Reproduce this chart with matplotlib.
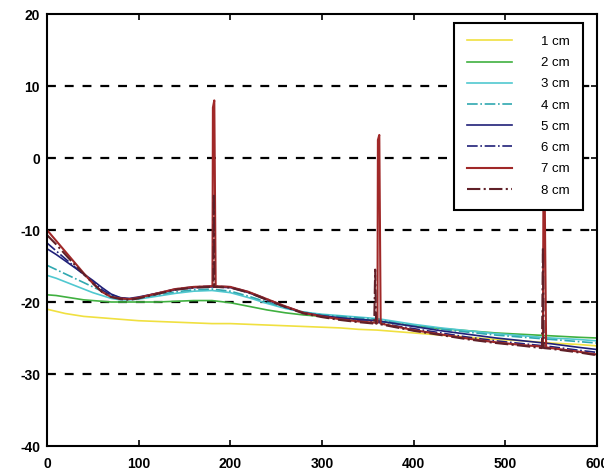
import matplotlib
matplotlib.use('Agg')
import matplotlib.pyplot as plt

# sample positions along the x axis
x = [0, 10, 20, 30, 40, 50, 60, 70, 80, 90, 100, 120, 140, 160, 180, 200,
     220, 240, 260, 280, 300, 320, 340, 360, 380, 400, 430, 460, 490, 520,
     550, 580, 600]

labels = ['1 cm', '2 cm', '3 cm', '4 cm', '5 cm', '6 cm', '7 cm', '8 cm']

y1 = [-21.0, -21.3, -21.6, -21.8, -22.0, -22.1, -22.2, -22.3, -22.4, -22.5, -22.6,
      -22.7, -22.8, -22.9, -23.0, -23.0, -23.1, -23.2, -23.3, -23.4, -23.5, -23.6,
      -23.8, -23.9, -24.1, -24.3, -24.6, -24.9, -25.2, -25.4, -25.7, -25.9, -26.1]
y2 = [-19.0, -19.1, -19.3, -19.5, -19.7, -19.8, -19.9, -20.0, -20.0, -20.0, -20.0,
      -20.0, -19.9, -19.8, -19.8, -20.1, -20.6, -21.1, -21.5, -21.8, -22.0, -22.2,
      -22.4, -22.6, -23.0, -23.3, -23.7, -24.0, -24.3, -24.5, -24.7, -24.9, -25.0]
y3 = [-16.3, -16.7, -17.2, -17.7, -18.2, -18.7, -19.1, -19.5, -19.7, -19.7, -19.6,
      -19.2, -18.8, -18.5, -18.4, -18.7, -19.4, -20.2, -20.9, -21.4, -21.7, -21.9,
      -22.1, -22.3, -22.7, -23.1, -23.6, -24.0, -24.4, -24.7, -25.0, -25.2, -25.4]
y4 = [-14.9, -15.5, -16.1, -16.7, -17.3, -17.9, -18.5, -19.0, -19.4, -19.6, -19.5,
      -19.0, -18.6, -18.3, -18.2, -18.5, -19.2, -20.0, -20.8, -21.4, -21.8, -22.0,
      -22.2, -22.4, -22.9, -23.3, -23.8, -24.2, -24.6, -24.9, -25.2, -25.5, -25.7]
y5 = [-12.6, -13.4, -14.3, -15.2, -16.1, -17.0, -18.0, -18.9, -19.4, -19.5, -19.3,
      -18.8, -18.3, -18.0, -17.9, -18.0, -18.7, -19.7, -20.7, -21.5, -21.9, -22.2,
      -22.4, -22.6, -23.0, -23.4, -24.0, -24.5, -25.0, -25.4, -25.8, -26.3, -26.6]
y6 = [-11.8, -12.9, -14.0, -15.1, -16.2, -17.2, -18.3, -19.1, -19.5, -19.6, -19.4,
      -18.8, -18.2, -17.9, -17.8, -17.9, -18.6, -19.6, -20.6, -21.5, -22.0, -22.3,
      -22.6, -22.8, -23.3, -23.7, -24.3, -24.9, -25.4, -25.8, -26.2, -26.7, -27.0]
y7 = [-10.0, -11.5, -13.0, -14.5, -16.0, -17.4, -18.6, -19.3, -19.5, -19.6, -19.4,
      -18.8, -18.2, -17.9, -17.8, -17.9, -18.6, -19.6, -20.6, -21.5, -22.0, -22.4,
      -22.7, -22.9, -23.4, -23.9, -24.5, -25.1, -25.6, -26.0, -26.4, -26.9, -27.3]
y8 = [-10.7, -12.0, -13.4, -14.8, -16.1, -17.4, -18.6, -19.3, -19.6, -19.7, -19.5,
      -18.9, -18.3, -18.0, -17.9, -18.0, -18.7, -19.7, -20.7, -21.6, -22.1, -22.5,
      -22.8, -23.0, -23.5, -24.0, -24.6, -25.2, -25.7, -26.1, -26.5, -27.0, -27.4]

# narrow pulses (base, up, peak, down)
spike7_x = [180.5, 181, 182.5, 184, 360.5, 361, 362.5, 364, 541, 541.5, 543, 544.5]
spike7_y = [-17.8, 7.0, 8.0, -17.8, -22.9, 2.5, 3.2, -23.0, -26.2, -7.0, -6.0, -26.3]
spike8_x = [181.5, 182, 182.5, 357, 358, 359, 540, 541, 542]
spike8_y = [-17.9, -5.0, -17.9, -23.0, -15.5, -23.0, -26.4, -12.4, -26.4]

colors = ['#f0e040', '#40b040', '#50c8d0', '#30a8b0', '#202078', '#202078', '#a02828', '#602028']
styles = ['-', '-', '-', '-.', '-', '-.', '-', '-.']


def with_spikes(xs, ys, sx, sy):
    pts = dict(zip(xs, ys))
    pts.update(zip(sx, sy))
    keys = sorted(pts)
    return keys, [pts[k] for k in keys]


series = [y1, y2, y3, y4, y5, y6, y7, y8]

plt.rcParams['font.family'] = ['Liberation Sans Narrow', 'Liberation Sans', 'DejaVu Sans']
plt.rcParams['axes.unicode_minus'] = False

fig = plt.figure(figsize=(6.04, 4.73), dpi=100)
ax = fig.add_axes([47 / 604, 27 / 473, 550 / 604, 432 / 473])

for i, ys in enumerate(series):
    xs = x
    if i == 6:
        xs, ys = with_spikes(x, ys, spike7_x, spike7_y)
    elif i == 7:
        xs, ys = with_spikes(x, ys, spike8_x, spike8_y)
    lw = 1.5 if i >= 6 else 1.2
    ax.plot(xs, ys, color=colors[i], linestyle=styles[i], linewidth=lw, label=labels[i])

for gy in [10, 0, -10, -20, -30]:
    ax.axhline(gy, color='black', linestyle=(0, (4, 4)), linewidth=1.6, zorder=0.5)

ax.set_xlim(0, 600)
ax.set_ylim(-40, 20)
ax.set_xticks(range(0, 601, 100))
ax.set_yticks(range(-40, 21, 10))
ax.tick_params(direction='in', length=4, width=1.2, top=True, right=True,
               labelsize=10, pad=5)
ax.tick_params(axis='x', pad=8)
for lab in ax.get_xticklabels() + ax.get_yticklabels():
    lab.set_fontweight('bold')
for sp in ax.spines.values():
    sp.set_linewidth(1.5)

leg = ax.legend(loc='upper right', bbox_to_anchor=(0.975, 0.98), borderaxespad=0,
                fontsize=9.5, handlelength=3.4, labelspacing=0.68, frameon=True,
                fancybox=False, edgecolor='black', framealpha=1,
                markerfirst=True, borderpad=1.0, handletextpad=2.2)
leg.get_frame().set_linewidth(1.5)

fig.savefig('out.png', dpi=100)
